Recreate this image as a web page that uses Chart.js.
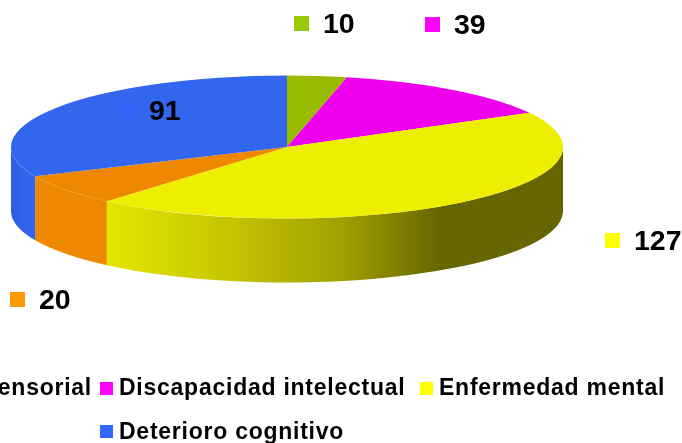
<!DOCTYPE html>
<html>
<head>
<meta charset="utf-8">
<style>
  html, body { margin: 0; padding: 0; background: #fff; overflow: hidden; }
  canvas { display: block; }
</style>
<script src="https://cdn.jsdelivr.net/npm/chart.js@4"></script>
</head>
<body>
<canvas id="myChart" width="682" height="443"></canvas>
<script>
// Chart values
const categories = ['Discapacidad sensorial', 'Discapacidad intelectual', 'Enfermedad mental', 'Deterioro cognitivo'];
const allCategories = ['Discapacidad física', ...categories];
const values = [10, 39, 127, 20, 91];
const topColors = ['#99bb00', '#ee00ee', '#eeee00', '#ee8800', '#3366ee'];
const keyColors = ['#99cc00', '#ff00ff', '#ffff00', '#ff9900', '#3366ff'];

// Where the value labels sit (square left edge, text centre line)
const valueLabelX = [294, 425, 605, 10, 120];
const valueLabelY = [24, 25, 241, 300, 111];

// Pie drawn flat, then squashed into an ellipse
const pieX = 287;
const pieY = 147;
const radiusX = 276;
const radiusY = 71.5;
const depth = 64;

function wallFill(ctx, i) {
  const g = ctx.createLinearGradient(pieX - radiusX, 0, pieX + radiusX, 0);
  if (i === 2) {
    g.addColorStop(0, '#eeee00');
    g.addColorStop(0.17, '#e6e600');
    g.addColorStop(0.4, '#c4c400');
    g.addColorStop(0.6, '#a0a000');
    g.addColorStop(0.78, '#666600');
    g.addColorStop(1, '#666600');
    return g;
  }
  if (i === 3) return '#ee8800';
  g.addColorStop(0, '#2f5edf');
  g.addColorStop(0.03, '#3366ee');
  g.addColorStop(1, '#3366ee');
  return g;
}

const pie3d = {
  id: 'pie3d',
  beforeDatasetsDraw(chart) {
    const ctx = chart.ctx;
    const arcs = chart.getDatasetMeta(0).data;
    // side walls of the front half
    arcs.forEach((arc, i) => {
      const a0 = Math.max(arc.startAngle, 0);
      const a1 = Math.min(arc.endAngle, Math.PI);
      if (a1 <= a0) return;
      ctx.save();
      ctx.beginPath();
      ctx.ellipse(pieX, pieY, radiusX, radiusY, 0, a0, a1);
      ctx.ellipse(pieX, pieY + depth, radiusX, radiusY, 0, a1, a0, true);
      ctx.closePath();
      ctx.fillStyle = wallFill(ctx, i);
      ctx.fill();
      ctx.restore();
    });
    // squash the top face
    const first = arcs[0];
    ctx.save();
    ctx.translate(pieX, pieY);
    ctx.scale(1, radiusY / radiusX);
    ctx.translate(-first.x, -first.y);
  },
  afterDatasetsDraw(chart) {
    chart.ctx.restore();
  },
  afterDraw(chart) {
    const ctx = chart.ctx;
    ctx.save();
    ctx.textBaseline = 'middle';
    ctx.textAlign = 'left';
    // value labels
    ctx.font = 'bold 28.5px "Liberation Sans", Arial, sans-serif';
    values.forEach((v, i) => {
      ctx.fillStyle = keyColors[i];
      ctx.fillRect(valueLabelX[i], valueLabelY[i] - 8, 15, 15);
      ctx.fillStyle = '#000';
      ctx.fillText(String(v), valueLabelX[i] + 29, valueLabelY[i] + 1);
    });
    // legend, first entry runs off the left edge as in the picture
    ctx.textBaseline = 'alphabetic';
    ctx.font = 'bold 23px "Liberation Sans", Arial, sans-serif';
    ctx.letterSpacing = '0.75px';
    const firstBox = 92 - ctx.measureText(categories[0]).width - 19;
    const legendRows = [
      { color: keyColors[0], text: categories[0], box: firstBox, boxY: 382, base: 395 },
      { color: keyColors[1], text: categories[1], box: 100, boxY: 382, base: 395 },
      { color: keyColors[2], text: categories[2], box: 420, boxY: 382, base: 395 },
      { color: keyColors[4], text: categories[3], box: 100, boxY: 425, base: 438.5 }
    ];
    legendRows.forEach(row => {
      ctx.fillStyle = row.color;
      ctx.fillRect(row.box, row.boxY, 13, 13);
      ctx.fillStyle = '#000';
      ctx.fillText(row.text, row.box + 19, row.base);
    });
    ctx.restore();
  }
};

new Chart(document.getElementById('myChart'), {
  type: 'pie',
  data: {
    labels: allCategories,
    datasets: [{
      data: values,
      backgroundColor: topColors,
      borderWidth: 0,
      clip: false
    }]
  },
  options: {
    responsive: false,
    animation: false,
    events: [],
    radius: radiusX,
    layout: { padding: { right: 108 } },
    plugins: {
      legend: { display: false },
      tooltip: { enabled: false }
    }
  },
  plugins: [pie3d]
});
</script>
</body>
</html>
